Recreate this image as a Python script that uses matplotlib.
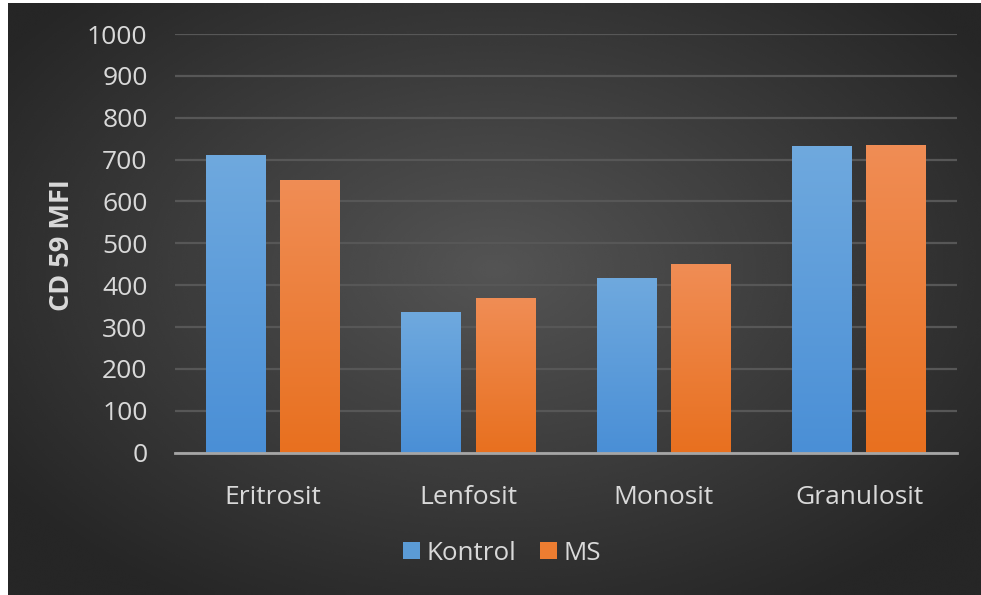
import numpy as np
import matplotlib.pyplot as plt
from matplotlib.colors import LinearSegmentedColormap
from matplotlib.patches import Patch

# Data
kategori = ['Eritrosit', 'Lenfosit', 'Monosit', 'Granulosit']
kontrol = [712, 335, 418, 732]
ms = [652, 369, 451, 734]
y_ticks = [0, 100, 200, 300, 400, 500, 600, 700, 800, 900, 1000]

plt.rcParams['font.family'] = ['Open Sans', 'DejaVu Sans']

fig = plt.figure(figsize=(9.81, 5.95), dpi=100)
fig.patch.set_facecolor('white')

# dark radial background (white strip on the left and top edges)
bg = fig.add_axes([8 / 981, 0, 1 - 8 / 981, 1 - 3 / 595], zorder=-10)
yy, xx = np.mgrid[0:1:300j, 0:1:500j]
r = np.sqrt(((xx - 0.5) / 0.75) ** 2 + ((yy - 0.45) / 0.8) ** 2)
shade = np.clip(0.33 - 0.22 * r, 0.15, 0.33)
bg.imshow(shade, cmap='gray', vmin=0, vmax=1, aspect='auto',
          extent=[0, 1, 0, 1], interpolation='bicubic')
bg.axis('off')

ax = fig.add_axes([175.3 / 981, 142.3 / 595, (956.9 - 175.3) / 981, (452.7 - 34) / 595])
ax.patch.set_alpha(0)

x = np.arange(len(kategori))
w = 0.307
off = 0.19

blue_cm = LinearSegmentedColormap.from_list('b', ['#4a8fd6', '#6fa9de'])
orange_cm = LinearSegmentedColormap.from_list('o', ['#e8701f', '#f08d55'])

bars_k = ax.bar(x - off, kontrol, w, color='#5b9bd5', zorder=2)
bars_m = ax.bar(x + off, ms, w, color='#ed7d31', zorder=2)

# vertical gradient fill on each bar
grad = np.linspace(0, 1, 256).reshape(-1, 1)
for bars, cm in [(bars_k, blue_cm), (bars_m, orange_cm)]:
    for b in bars:
        bx, by = b.get_x(), b.get_y()
        bw, bh = b.get_width(), b.get_height()
        im = ax.imshow(grad, cmap=cm, origin='lower', aspect='auto',
                       extent=[bx, bx + bw, by, by + bh], zorder=3)
        im.set_clip_path(b)

ax.set_xlim(-0.5, 3.5)
ax.set_ylim(0, 1000)
ax.set_yticks(y_ticks)
ax.set_xticks(x)
ax.set_xticklabels(kategori)
ax.tick_params(axis='both', length=0, colors='#d9d9d9', labelsize=19)
ax.tick_params(axis='y', pad=20)
ax.tick_params(axis='x', pad=23)
ax.grid(axis='y', color='#575757', linewidth=1.6, zorder=0)
ax.set_axisbelow(True)
for s in ['top', 'right', 'left']:
    ax.spines[s].set_visible(False)
ax.spines['bottom'].set_color('#a6a6a6')
ax.spines['bottom'].set_linewidth(2)
ax.spines['bottom'].set_zorder(4)

fig.text(62 / 981, 1 - 245 / 595, 'CD 59 MFI', rotation=90, color='#d9d9d9',
         fontsize=19.5, fontweight='bold', ha='center', va='center')

handles = [Patch(facecolor='#5b9bd5', label='Kontrol'),
           Patch(facecolor='#ed7d31', label='MS')]
fig.legend(handles=handles, loc='center', bbox_to_anchor=(502 / 981, 1 - 553 / 595),
           ncol=2, frameon=False, fontsize=18.7, labelcolor='#d9d9d9',
           handlelength=0.65, handleheight=0.65, handletextpad=0.25, columnspacing=0.9)

fig.savefig('out.png', dpi=100, facecolor=fig.get_facecolor())
